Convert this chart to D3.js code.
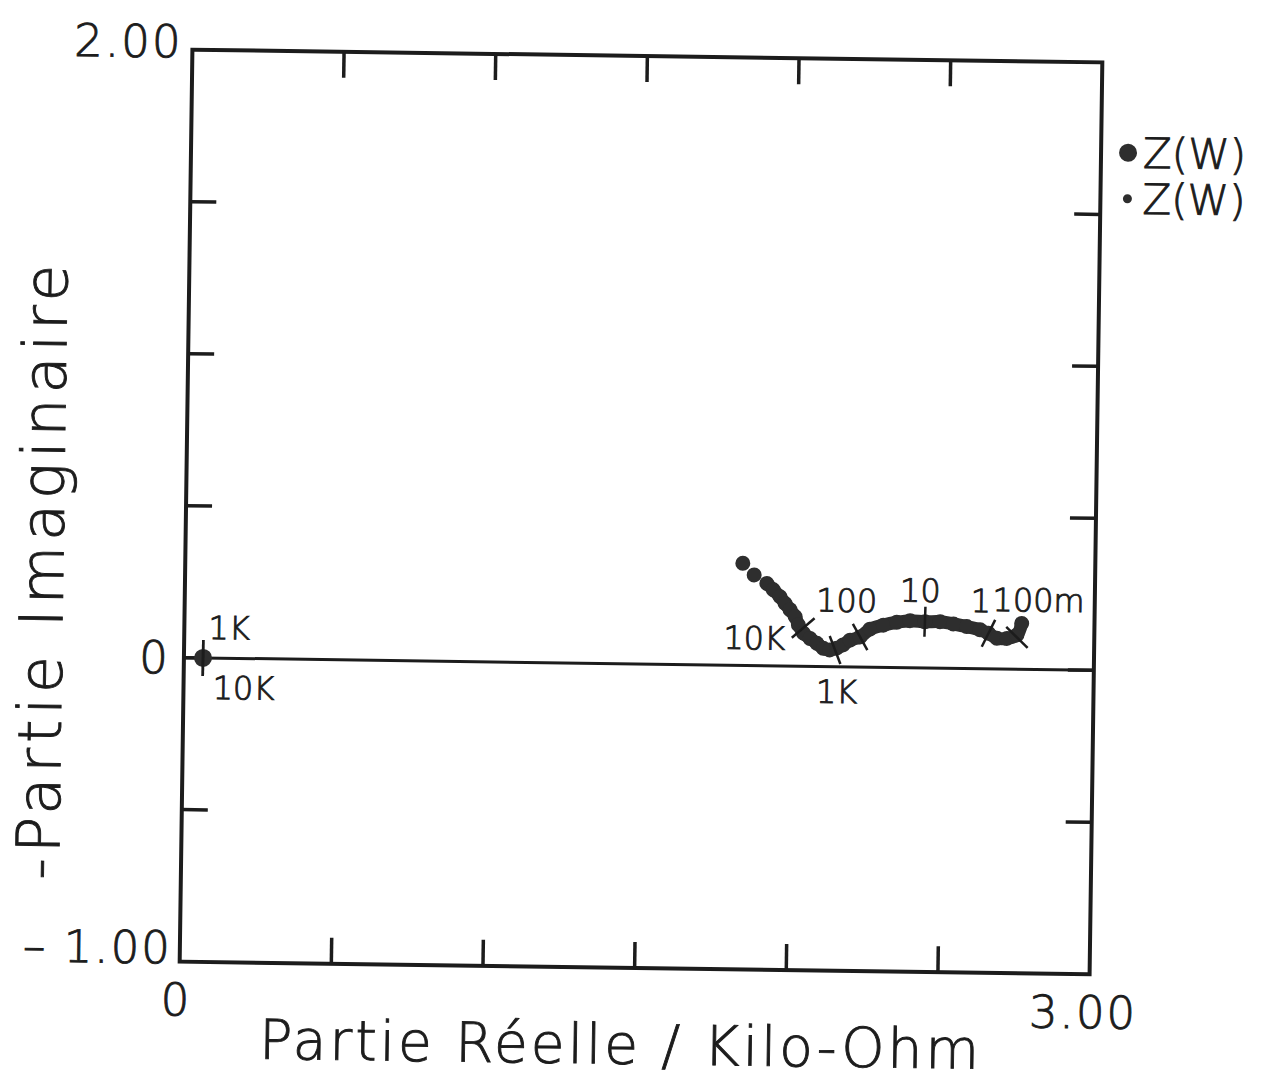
<!DOCTYPE html>
<html lang="fr">
<head>
<meta charset="UTF-8">
<title>Impédance - Partie Réelle / Partie Imaginaire</title>
<script src="https://d3js.org/d3.v7.min.js"></script>
<style>
  body { margin: 0; background: #fff; }
  svg text { font-family: "DejaVu Sans", sans-serif; font-weight: 200; fill: #1c1c1c;
             stroke: #1c1c1c; stroke-width: 0.9px; }
</style>
</head>
<body>
<svg id="chart" width="1268" height="1087"></svg>
<script>
// Z(W) : points (kOhm)
const zReal = [1.838, 1.876, 1.918, 1.940, 1.962, 1.979, 1.996, 2.013, 2.024, 2.041,
               2.063, 2.086, 2.107, 2.129, 2.151, 2.172, 2.195, 2.228, 2.260, 2.304,
               2.348, 2.392, 2.441, 2.491, 2.535, 2.579, 2.623, 2.651, 2.679, 2.712,
               2.745, 2.760];
const zImag = [0.336, 0.298, 0.271, 0.250, 0.228, 0.206, 0.185, 0.163, 0.136, 0.109,
               0.092, 0.076, 0.060, 0.055, 0.061, 0.072, 0.088, 0.099, 0.125, 0.139,
               0.149, 0.155, 0.152, 0.153, 0.146, 0.138, 0.128, 0.117, 0.101, 0.101,
               0.113, 0.151];

// point isolé près de l'origine
const leftReal = [0.063];
const leftImag = [0.0];

// marqueurs de fréquence
const markerLabels = ["10K", "1K", "100", "10", "1", "100m", "1K", "10K"];
const markerReal = [2.040, 2.146, 2.228, 2.441, 2.651, 2.745, 0.063, 0.063];
const markerImag = [0.126, 0.055, 0.099, 0.152, 0.117, 0.105, 0.0, 0.0];

const xTicks = [0.5, 1.0, 1.5, 2.0, 2.5];
const yTicks = [-0.5, 0, 0.5, 1.0, 1.5];
const legendLabels = ["Z(W)", "Z(W)"];

// ---- layout ----
const frame = { left: 186, right: 1096, top: 56, bottom: 968 };
const x = d3.scaleLinear().domain([0, 3]).range([frame.left, frame.right]);
const y = d3.scaleLinear().domain([-1, 2]).range([frame.bottom, frame.top]);
const ink = "#1c1c1c";
const dotInk = "#2e2e2e";
const tickLen = 26;

const svg = d3.select("#chart");
// the scanned figure is slightly tilted
const g = svg.append("g").attr("transform", "rotate(0.8, 641, 512)");

// frame
g.append("rect")
  .attr("x", frame.left).attr("y", frame.top)
  .attr("width", frame.right - frame.left)
  .attr("height", frame.bottom - frame.top)
  .attr("fill", "none").attr("stroke", ink).attr("stroke-width", 4);

// inward ticks, all four sides
const tk = g.append("g").attr("stroke", ink).attr("stroke-width", 3.5);
xTicks.forEach(v => {
  tk.append("line").attr("x1", x(v)).attr("x2", x(v))
    .attr("y1", frame.bottom).attr("y2", frame.bottom - tickLen);
  tk.append("line").attr("x1", x(v)).attr("x2", x(v))
    .attr("y1", frame.top).attr("y2", frame.top + tickLen);
});
yTicks.forEach(v => {
  tk.append("line").attr("y1", y(v)).attr("y2", y(v))
    .attr("x1", frame.left).attr("x2", frame.left + tickLen);
  tk.append("line").attr("y1", y(v)).attr("y2", y(v))
    .attr("x1", frame.right).attr("x2", frame.right - tickLen);
});

// zero line
g.append("line")
  .attr("x1", x(0)).attr("x2", x(3)).attr("y1", y(0)).attr("y2", y(0))
  .attr("stroke", ink).attr("stroke-width", 3);

// axis end labels
const lab = g.append("g").attr("font-size", 45);
lab.append("text").attr("x", frame.left - 10).attr("y", y(2) + 8)
  .attr("text-anchor", "end").attr("letter-spacing", 2).text("2.00");
lab.append("text").attr("x", frame.left - 8).attr("y", y(-1) + 2)
  .attr("text-anchor", "end").attr("letter-spacing", 2).text("– 1.00");
lab.append("text").attr("x", frame.left - 16).attr("y", y(0) + 16)
  .attr("text-anchor", "end").text("0");
lab.append("text").attr("x", x(0) - 4).attr("y", frame.bottom + 54)
  .attr("text-anchor", "middle").text("0");
lab.append("text").attr("x", x(3) - 6).attr("y", frame.bottom + 54)
  .attr("text-anchor", "middle").attr("letter-spacing", 2).text("3.00");

// axis titles
g.append("text")
  .attr("x", 628).attr("y", 1064)
  .attr("text-anchor", "middle")
  .attr("font-size", 55).attr("letter-spacing", 3)
  .text("Partie Réelle / Kilo-Ohm");
g.append("text")
  .attr("transform", "translate(64,578) rotate(-90)")
  .attr("text-anchor", "middle")
  .attr("font-size", 60).attr("letter-spacing", 5)
  .text("-Partie Imaginaire");

// data: dense chain drawn as joined beads, first points stand apart
const pts = zReal.map((v, i) => [v, zImag[i]]);
g.append("path")
  .datum(pts.slice(2))
  .attr("d", d3.line().x(d => x(d[0])).y(d => y(d[1])).curve(d3.curveCatmullRom))
  .attr("fill", "none").attr("stroke", dotInk)
  .attr("stroke-width", 13).attr("stroke-linecap", "round").attr("stroke-linejoin", "round");
g.append("g").selectAll("circle")
  .data(pts).join("circle")
  .attr("cx", d => x(d[0])).attr("cy", d => y(d[1]))
  .attr("r", 7.5).attr("fill", dotInk);

g.append("g").selectAll("circle")
  .data(leftReal.map((v, i) => [v, leftImag[i]])).join("circle")
  .attr("cx", d => x(d[0])).attr("cy", d => y(d[1]))
  .attr("r", 9).attr("fill", dotInk);

// frequency markers: short tick across the curve + label
const labelPos = [
  { dx: -18, dy: 22, anchor: "end" },
  { dx: 2, dy: 53, anchor: "middle" },
  { dx: -14, dy: -25, anchor: "middle" },
  { dx: -5, dy: -20, anchor: "middle" },
  { dx: 2, dy: -21, anchor: "end" },
  { dx: -25, dy: -26, anchor: "start" },
  { dx: 5, dy: -19, anchor: "start" },
  { dx: 10, dy: 41, anchor: "start" }
];
const mk = g.append("g");
markerLabels.forEach((name, i) => {
  const px = x(markerReal[i]), py = y(markerImag[i]);
  // direction of the curve near the marker
  let ux = 1, uy = 0, half = 18;
  if (markerReal[i] > 1) {
    const idx = d3.minIndex(pts, p => Math.hypot(x(p[0]) - px, y(p[1]) - py));
    const a = pts[Math.max(0, idx - 1)], b = pts[Math.min(pts.length - 1, idx + 1)];
    const dx = x(b[0]) - x(a[0]), dy = y(b[1]) - y(a[1]);
    const n = Math.hypot(dx, dy);
    ux = dx / n; uy = dy / n; half = 15;
  }
  mk.append("line")
    .attr("x1", px - uy * half).attr("y1", py + ux * half)
    .attr("x2", px + uy * half).attr("y2", py - ux * half)
    .attr("stroke", ink).attr("stroke-width", 2.5);
  const lp = labelPos[i];
  mk.append("text")
    .attr("x", px + lp.dx).attr("y", py + lp.dy)
    .attr("text-anchor", lp.anchor)
    .attr("font-size", 32)
    .text(name);
});

// legend
const lg = g.append("g");
const legendR = [9, 4.5];
legendLabels.forEach((t, i) => {
  const ly = 146 + i * 46;
  lg.append("circle").attr("cx", 1123).attr("cy", ly).attr("r", legendR[i]).attr("fill", dotInk);
  lg.append("text").attr("x", 1138).attr("y", ly + 15).attr("font-size", 42).text(t);
});
</script>
</body>
</html>
